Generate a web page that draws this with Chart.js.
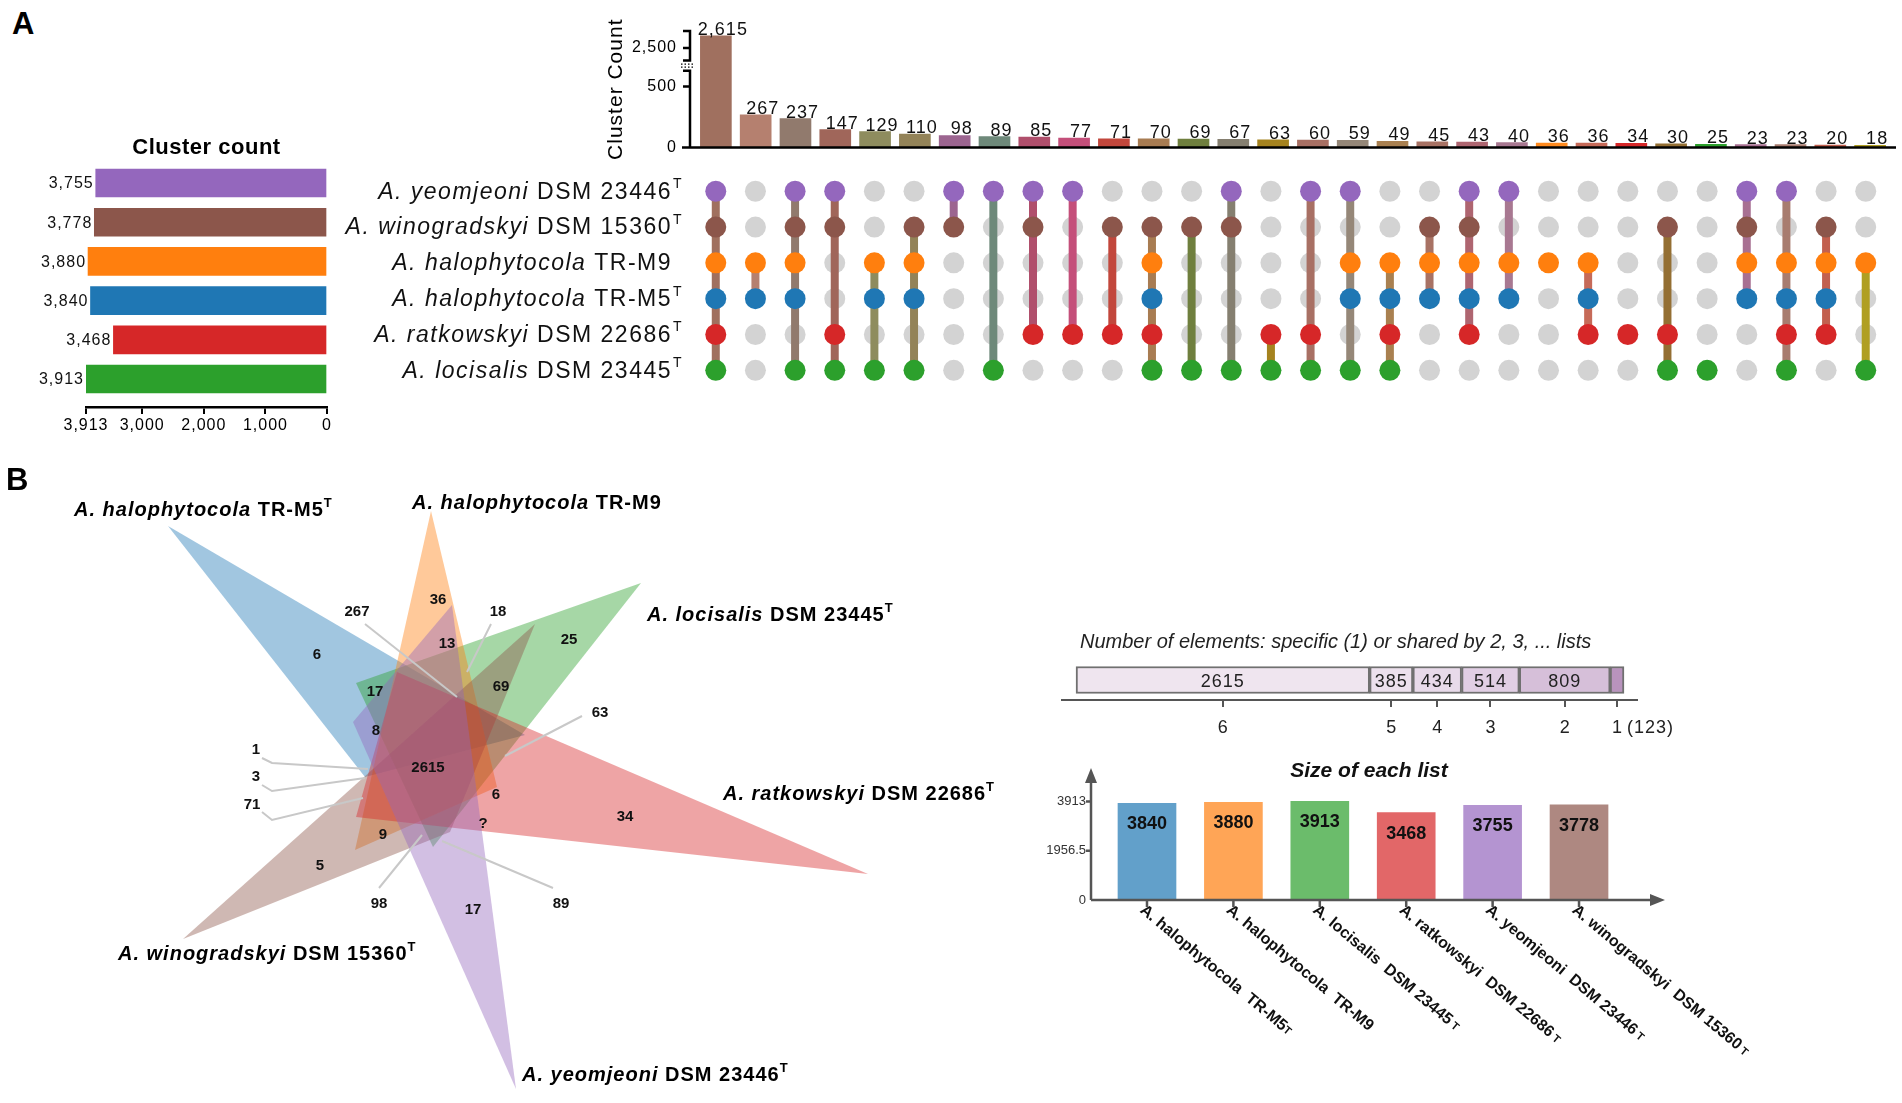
<!DOCTYPE html>
<html lang="en">
<head>
  <meta charset="UTF-8" />
  <title>Cluster comparison</title>
  <script src="https://cdn.jsdelivr.net/npm/chart.js"></script>
  <style>
    body {
      margin: 0;
      width: 1902px;
      height: 1103px;
      position: relative;
      overflow: hidden;
      background: #fff;
      font-family: "Liberation Sans", Arial, sans-serif;
    }
    .box { position: absolute; }
    .panel { position: absolute; font-weight: bold; font-size: 31px; color: #000; }
  </style>
</head>
<body>
  <div class="box" style="left:0;top:100px;width:340px;height:340px"><canvas id="graficoEsquerda"></canvas></div>
  <div class="box" style="left:600px;top:0;width:1302px;height:170px"><canvas id="graficoTopo"></canvas></div>
  <div class="box" style="left:330px;top:157px;width:1572px;height:243px"><canvas id="graficoMatriz"></canvas></div>
  <div class="box" style="left:0;top:460px;width:1000px;height:643px"><canvas id="graficoVenn"></canvas></div>
  <div class="box" style="left:1040px;top:610px;width:700px;height:140px"><canvas id="graficoElementos"></canvas></div>
  <div class="box" style="left:1040px;top:750px;width:800px;height:353px"><canvas id="graficoListas"></canvas></div>
  <div class="panel" style="left:12px;top:6px">A</div>
  <div class="panel" style="left:6px;top:462px">B</div>

  <script>
    const FONT = '"Liberation Sans", Arial, sans-serif';

    // sets (rows of panel A, top to bottom)
    const setSpecies = ["A. yeomjeoni", "A. winogradskyi", "A. halophytocola", "A. halophytocola", "A. ratkowskyi", "A. locisalis"];
    const setStrains = ["DSM 23446", "DSM 15360", "TR-M9", "TR-M5", "DSM 22686", "DSM 23445"];
    const setTypeMark = ["T", "T", "", "T", "T", "T"];
    const setSizes = [3755, 3778, 3880, 3840, 3468, 3913];
    const setColors = ["#9467bd", "#8c564b", "#ff7f0e", "#1f77b4", "#d62728", "#2ca02c"];
    const leftTicks = [3913, 3000, 2000, 1000, 0];

    // intersections (upset plot); membership flags follow the set rows above
    const interCounts = [2615, 267, 237, 147, 129, 110, 98, 89, 85, 77, 71, 70, 69, 67, 63, 60, 59, 49, 45, 43, 40, 36, 36, 34, 30, 25, 23, 23, 20, 18];
    const interMembers = ["111111", "001100", "111101", "110011", "001101", "011101", "110000", "100001", "110010", "100010",
                          "010010", "011111", "010001", "110001", "000011", "100011", "101101", "001111", "011100", "111110",
                          "101100", "001000", "001110", "000010", "010011", "000001", "111100", "101111", "011110", "001001"];
    const interColors = ["#a0705f", "#b5806f", "#917a6d", "#a0665a", "#8e8c5e", "#938358", "#9c6590", "#6e897a", "#b04f6c", "#c44f7a",
                         "#c2473c", "#a87c52", "#6f7f3e", "#857f70", "#a5831f", "#a87064", "#958778", "#a98050", "#a87264", "#ae6570",
                         "#a87891", "#ff8a1e", "#c66a58", "#d62728", "#946f33", "#2ca02c", "#a87092", "#a87c6f", "#c2604f", "#b09f22"];
    const topTicks = [0, 500, 2500];
    const axisBreak = [630, 2380];
    const axisTop = 2660;
    const breakFrac = [0.659, 0.746];

    // venn triangles (panel B coordinates)
    const triM5 = [[168, 66], [365, 317], [525, 275]];
    const triM9 = [[431, 51], [355, 390], [497, 327]];
    const triLoc = [[641, 123], [356, 223], [433, 387]];
    const triRat = [[868, 414], [397, 212], [356, 357]];
    const triYeo = [[516, 629], [353, 262], [452, 145]];
    const triWin = [[183, 479], [535, 164], [450, 372]];
    const vennCountText = ["6", "267", "36", "18", "13", "17", "69", "8", "1", "3", "71", "2615", "6", "?", "9", "5", "98", "17", "25", "63", "34", "89"];
    const vennCountX = [317, 357, 438, 498, 447, 375, 501, 376, 256, 256, 252, 428, 496, 483, 383, 320, 379, 473, 569, 600, 625, 561];
    const vennCountY = [195, 152, 140, 152, 184, 232, 227, 271, 290, 317, 345, 308, 335, 364, 375, 406, 444, 450, 180, 253, 357, 444];
    const leaderLines = [
      [[365, 164], [457, 237]],
      [[491, 164], [467, 212]],
      [[262, 298], [272, 303], [368, 309]],
      [[262, 325], [272, 331], [365, 318]],
      [[262, 352], [272, 360], [363, 338]],
      [[379, 428], [422, 375]],
      [[582, 256], [505, 296]],
      [[553, 428], [442, 381]]
    ];
    // labels for sets M5, M9, locisalis, ratkowskyi, winogradskyi, yeomjeoni
    const vennLabelSet = [3, 2, 5, 4, 1, 0];
    const vennLabelX = [74, 412, 647, 723, 118, 522];
    const vennLabelY = [50, 43, 155, 334, 494, 615];

    // number of elements shared by 6, 5, ... 1 lists
    const elemLabels = ["6", "5", "4", "3", "2", "1"];
    const elemCounts = [2615, 385, 434, 514, 809, 123];
    const elemColors = ["#efe5ef", "#ece0ed", "#e8daea", "#e1cee4", "#d6bfd9", "#b893bd"];

    // size of each list
    const listOrder = [3, 2, 5, 4, 0, 1];
    const listTicks = [0, 1956.5, 3913];
    const listNames = ["A. halophytocola  TR-M5", "A. halophytocola  TR-M9", "A. locisalis  DSM 23445", "A. ratkowskyi  DSM 22686", "A. yeomjeoni  DSM 23446", "A. winogradskyi  DSM 15360"];
    const listSuffix = ["T", "", " T", " T", " T", " T"];

    function rgba(hex, a) {
      const n = parseInt(hex.slice(1), 16);
      return `rgba(${n >> 16},${(n >> 8) & 255},${n & 255},${a})`;
    }

    // draws text pieces with different fonts one after another
    function drawPieces(ctx, pieces, x, y, align) {
      const widths = pieces.map(p => { ctx.font = p.font; return ctx.measureText(p.text).width; });
      let cx = align === "right" ? x - widths.reduce((a, b) => a + b, 0) : x;
      ctx.textAlign = "left";
      pieces.forEach((p, i) => {
        ctx.font = p.font;
        ctx.fillText(p.text, cx, y + (p.dy || 0));
        cx += widths[i];
      });
    }

    Chart.defaults.font.family = FONT;
    Chart.defaults.color = "#000";
    Chart.defaults.animation = false;
    Chart.defaults.maintainAspectRatio = false;
    Chart.defaults.plugins.legend.display = false;
    Chart.defaults.plugins.tooltip.enabled = false;

    // linear scale with a gap between axisBreak[0] and axisBreak[1]
    class BrokenScale extends Chart.LinearScale {
      getPixelForValue(v) {
        let f;
        if (v <= axisBreak[0]) f = v / axisBreak[0] * breakFrac[0];
        else if (v >= axisBreak[1]) f = breakFrac[1] + (v - axisBreak[1]) / (axisTop - axisBreak[1]) * (1 - breakFrac[1]);
        else f = breakFrac[0] + (v - axisBreak[0]) / (axisBreak[1] - axisBreak[0]) * (breakFrac[1] - breakFrac[0]);
        return this.bottom - f * (this.bottom - this.top);
      }
      getValueForPixel(p) {
        const f = (this.bottom - p) / (this.bottom - this.top);
        if (f <= breakFrac[0]) return f / breakFrac[0] * axisBreak[0];
        if (f >= breakFrac[1]) return axisBreak[1] + (f - breakFrac[1]) / (1 - breakFrac[1]) * (axisTop - axisBreak[1]);
        return axisBreak[0] + (f - breakFrac[0]) / (breakFrac[1] - breakFrac[0]) * (axisBreak[1] - axisBreak[0]);
      }
    }
    BrokenScale.id = "broken";
    Chart.register(BrokenScale);

    // ---------- A: cluster count (left) ----------
    new Chart(document.getElementById("graficoEsquerda"), {
      type: "bar",
      data: {
        datasets: [{
          data: setSizes.map((v, i) => ({ x: v, y: i })),
          backgroundColor: setColors,
          barThickness: 28
        }]
      },
      options: {
        indexAxis: "y",
        layout: { padding: { left: 86, right: 13, top: 60, bottom: 3 } },
        scales: {
          x: {
            type: "linear", reverse: true, min: 0, max: 3913,
            afterBuildTicks: s => { s.ticks = leftTicks.map(v => ({ value: v })); },
            afterFit: s => { s.height = 30; },
            ticks: { autoSkip: false, maxRotation: 0, padding: 2, font: { size: 16 }, color: "#000", callback: v => v.toLocaleString("en-US") },
            grid: { drawOnChartArea: false, drawTicks: true, tickLength: 7, color: "#000", lineWidth: 2 },
            border: { color: "#000", width: 2.5 }
          },
          y: { type: "linear", display: false, offset: false, min: -0.587, max: 5.714, reverse: true }
        }
      },
      plugins: [{
        id: "rotulosEsquerda",
        beforeDraw(chart) { chart.ctx.letterSpacing = "1px"; },
        afterDatasetsDraw(chart) {
          const { ctx, chartArea: a } = chart;
          ctx.save();
          ctx.font = "16px " + FONT;
          ctx.fillStyle = "#111";
          ctx.textAlign = "right";
          ctx.textBaseline = "middle";
          chart.getDatasetMeta(0).data.forEach((bar, i) => {
            ctx.fillText(setSizes[i].toLocaleString("en-US"), bar.x - 2, bar.y + 1);
          });
          ctx.font = "bold 22px " + FONT;
          ctx.textAlign = "center";
          ctx.fillStyle = "#000";
          ctx.letterSpacing = "0.5px";
          ctx.fillText("Cluster count", (a.left + a.right) / 2, a.top - 12);
          ctx.restore();
        }
      }]
    });

    // ---------- A: intersection sizes ----------
    new Chart(document.getElementById("graficoTopo"), {
      type: "bar",
      data: {
        datasets: [{
          data: interCounts.map((v, i) => ({ x: i, y: v })),
          backgroundColor: interColors,
          barThickness: 31
        }]
      },
      options: {
        layout: { padding: { left: 0, right: 6, top: 31, bottom: 13 } },
        scales: {
          x: { type: "linear", offset: false, min: -0.65, max: 29.65, display: false },
          y: {
            type: "broken", min: 0, max: axisTop,
            afterBuildTicks: s => { s.ticks = topTicks.map(v => ({ value: v })); },
            afterFit: s => { s.width = 90; },
            ticks: { padding: 13, font: { size: 16 }, color: "#000", callback: v => v.toLocaleString("en-US") },
            grid: { display: false, drawTicks: false },
            border: { display: false },
            title: { display: true, text: "Cluster Count", font: { size: 21 }, color: "#000", padding: { top: 4, bottom: 0 } }
          }
        }
      },
      plugins: [{
        id: "eixoQuebrado",
        beforeDraw(chart) { chart.ctx.letterSpacing = "1px"; },
        afterDraw(chart) {
          const { ctx, chartArea: a } = chart;
          const ys = chart.scales.y;
          const p = v => ys.getPixelForValue(v);
          const x0 = a.left;
          ctx.save();
          ctx.strokeStyle = "#000";
          ctx.lineWidth = 2.5;
          ctx.beginPath();
          ctx.moveTo(x0, p(0)); ctx.lineTo(x0, p(axisBreak[0])); ctx.lineTo(x0 - 7, p(axisBreak[0]));
          ctx.moveTo(x0 - 7, p(axisBreak[1])); ctx.lineTo(x0, p(axisBreak[1])); ctx.lineTo(x0, p(axisTop)); ctx.lineTo(x0 - 7, p(axisTop));
          topTicks.filter(v => v > 0).forEach(v => { ctx.moveTo(x0 - 7, p(v)); ctx.lineTo(x0, p(v)); });
          ctx.moveTo(x0 - 8, p(0)); ctx.lineTo(a.right, p(0));
          ctx.stroke();
          const mid = (p(axisBreak[0]) + p(axisBreak[1])) / 2;
          ctx.lineWidth = 1.2;
          ctx.setLineDash([1.5, 2]);
          ctx.beginPath();
          ctx.moveTo(x0 - 9, mid - 1.5); ctx.lineTo(x0 + 3, mid - 1.5);
          ctx.moveTo(x0 - 9, mid + 1.5); ctx.lineTo(x0 + 3, mid + 1.5);
          ctx.stroke();
          ctx.setLineDash([]);
          ctx.font = "18px " + FONT;
          ctx.fillStyle = "#111";
          ctx.textAlign = "center";
          ctx.textBaseline = "alphabetic";
          chart.getDatasetMeta(0).data.forEach((bar, i) => {
            ctx.fillText(interCounts[i].toLocaleString("en-US"), bar.x + 7, bar.y - 1);
          });
          ctx.restore();
        }
      }]
    });

    // ---------- A: membership matrix ----------
    const greyPts = [], dotPts = [], dotCols = [], linkSets = [];
    interMembers.forEach((m, i) => {
      const rows = [];
      for (let r = 0; r < m.length; r++) {
        if (m[r] === "1") { dotPts.push({ x: i, y: r }); dotCols.push(setColors[r]); rows.push(r); }
        else greyPts.push({ x: i, y: r });
      }
      if (rows.length > 1) {
        linkSets.push({
          data: [{ x: i, y: rows[0] }, { x: i, y: rows[rows.length - 1] }],
          borderColor: interColors[i], borderWidth: 8, pointRadius: 0, showLine: true, order: 2
        });
      }
    });

    new Chart(document.getElementById("graficoMatriz"), {
      type: "line",
      data: {
        datasets: [
          { data: greyPts, showLine: false, pointRadius: 10.5, pointHoverRadius: 10.5, pointBorderWidth: 0, pointBackgroundColor: "#d3d3d3", order: 3 },
          ...linkSets,
          { data: dotPts, showLine: false, pointRadius: 10.5, pointHoverRadius: 10.5, pointBorderWidth: 0, pointBackgroundColor: dotCols, order: 1 }
        ]
      },
      options: {
        layout: { padding: { left: 360, right: 6, top: 0, bottom: 0 } },
        scales: {
          x: { type: "linear", min: -0.65, max: 29.65, display: false },
          y: { type: "linear", min: -0.663, max: 5.536, reverse: true, display: false }
        }
      },
      plugins: [{
        id: "nomesLinhas",
        afterDraw(chart) {
          const { ctx, chartArea: a } = chart;
          const ys = chart.scales.y;
          ctx.save();
          ctx.fillStyle = "#111";
          ctx.textBaseline = "middle";
          ctx.letterSpacing = "1.5px";
          setSpecies.forEach((sp, r) => {
            const y = ys.getPixelForValue(r) + 1;
            drawPieces(ctx, [
              { text: sp, font: "italic 23px " + FONT },
              { text: " " + setStrains[r], font: "23px " + FONT }
            ], a.left - 18, y, "right");
            if (setTypeMark[r]) {
              ctx.font = "14px " + FONT;
              ctx.fillText(setTypeMark[r], a.left - 17, y - 8);
            }
          });
          ctx.restore();
        }
      }]
    });

    // ---------- B: venn triangles ----------
    const vennTris = [triM5, triLoc, triM9, triWin, triRat, triYeo];
    const vennTriSet = [3, 5, 2, 1, 4, 0];
    const triSets = vennTris.map((t, k) => ({
      data: [...t, t[0]].map(v => ({ x: v[0], y: v[1] })),
      fill: "shape",
      backgroundColor: rgba(setColors[vennTriSet[k]], 0.42),
      borderWidth: 0,
      pointRadius: 0,
      tension: 0,
      order: 10 - k
    }));
    const leaderSets = leaderLines.map(l => ({
      data: l.map(v => ({ x: v[0], y: v[1] })),
      fill: false,
      borderColor: "#c8c8c8",
      borderWidth: 2,
      pointRadius: 0,
      order: 1
    }));

    new Chart(document.getElementById("graficoVenn"), {
      type: "line",
      data: { datasets: [...triSets, ...leaderSets] },
      options: {
        layout: { padding: 0 },
        scales: {
          x: { type: "linear", min: 0, max: 1000, display: false },
          y: { type: "linear", min: 0, max: 643, reverse: true, display: false }
        }
      },
      plugins: [{
        id: "rotulosVenn",
        afterDraw(chart) {
          const { ctx } = chart;
          const xs = chart.scales.x, ys = chart.scales.y;
          ctx.save();
          ctx.fillStyle = "#111";
          ctx.textAlign = "center";
          ctx.textBaseline = "middle";
          ctx.font = "bold 15px " + FONT;
          vennCountText.forEach((t, i) => {
            ctx.fillText(t, xs.getPixelForValue(vennCountX[i]), ys.getPixelForValue(vennCountY[i]));
          });
          ctx.fillStyle = "#000";
          ctx.letterSpacing = "1px";
          vennLabelSet.forEach((s, i) => {
            const pieces = [
              { text: setSpecies[s] + " ", font: "italic bold 20px " + FONT },
              { text: setStrains[s], font: "bold 20px " + FONT }
            ];
            if (setTypeMark[s]) pieces.push({ text: setTypeMark[s], font: "bold 13px " + FONT, dy: -7 });
            drawPieces(ctx, pieces, xs.getPixelForValue(vennLabelX[i]), ys.getPixelForValue(vennLabelY[i]), "left");
          });
          ctx.restore();
        }
      }]
    });

    // ---------- B: number of elements ----------
    new Chart(document.getElementById("graficoElementos"), {
      type: "bar",
      data: {
        labels: ["n"],
        datasets: elemCounts.map((v, i) => ({
          data: [v],
          backgroundColor: elemColors[i],
          borderColor: "#707070",
          borderWidth: 2,
          borderSkipped: false,
          barThickness: 27
        }))
      },
      options: {
        indexAxis: "y",
        layout: { padding: { left: 22, right: 103, top: 50, bottom: 10 } },
        scales: {
          x: {
            type: "linear", stacked: true, min: -125, max: 4996,
            afterBuildTicks: s => {
              let acc = 0;
              s.ticks = elemCounts.map(v => { const c = acc + v / 2; acc += v; return { value: c }; });
            },
            afterFit: s => { s.height = 40; },
            ticks: { autoSkip: false, maxRotation: 0, padding: 10, font: { size: 18 }, color: "#222", callback: (v, i) => elemLabels[i] },
            grid: { drawOnChartArea: false, drawTicks: true, tickLength: 7, color: "#555", lineWidth: 2 },
            border: { color: "#555", width: 2 }
          },
          y: { stacked: true, display: false }
        }
      },
      plugins: [{
        id: "rotulosElementos",
        afterDraw(chart) {
          const { ctx, chartArea: a } = chart;
          const xs = chart.scales.x;
          ctx.save();
          ctx.fillStyle = "#222";
          ctx.textBaseline = "middle";
          ctx.textAlign = "center";
          ctx.letterSpacing = "1px";
          ctx.font = "18px " + FONT;
          chart.data.datasets.forEach((ds, i) => {
            const bar = chart.getDatasetMeta(i).data[0];
            if (Math.abs(bar.x - bar.base) > 25) ctx.fillText(String(elemCounts[i]), (bar.x + bar.base) / 2, bar.y + 2);
          });
          const last = xs.getPixelForValue(xs.ticks[xs.ticks.length - 1].value);
          ctx.textAlign = "left";
          ctx.fillText("(" + elemCounts[elemCounts.length - 1] + ")", last + 10, a.bottom + 28);
          ctx.letterSpacing = "0px";
          ctx.font = "italic 20px " + FONT;
          ctx.fillText("Number of elements: specific (1) or shared by 2, 3, ... lists", a.left + 18, a.top - 18);
          ctx.restore();
        }
      }]
    });

    // ---------- B: size of each list ----------
    new Chart(document.getElementById("graficoListas"), {
      type: "bar",
      data: {
        datasets: [{
          data: listOrder.map((s, i) => ({ x: i, y: setSizes[s] })),
          backgroundColor: listOrder.map(s => rgba(setColors[s], 0.7)),
          barThickness: 58
        }]
      },
      options: {
        layout: { padding: { left: 0, right: 175, top: 18, bottom: 0 } },
        scales: {
          x: {
            type: "linear", offset: false, min: -0.648, max: 5.995,
            afterFit: s => { s.height = 203; },
            ticks: { display: false },
            grid: { display: false },
            border: { display: false }
          },
          y: {
            min: 0, max: 5240,
            afterBuildTicks: s => { s.ticks = listTicks.map(v => ({ value: v })); },
            afterFit: s => { s.width = 51; },
            ticks: { padding: 5, font: { size: 13 }, color: "#333", callback: v => String(v) },
            grid: { display: false, drawTicks: false },
            border: { display: false }
          }
        }
      },
      plugins: [{
        id: "eixosListas",
        afterDraw(chart) {
          const { ctx, chartArea: a } = chart;
          const xs = chart.scales.x, ys = chart.scales.y;
          ctx.save();
          ctx.strokeStyle = "#555";
          ctx.fillStyle = "#555";
          ctx.lineWidth = 2.5;
          ctx.beginPath();
          ctx.moveTo(a.left, a.bottom); ctx.lineTo(a.left, a.top + 10);
          ctx.moveTo(a.left, a.bottom); ctx.lineTo(a.right - 10, a.bottom);
          listTicks.filter(v => v > 0).forEach(v => { ctx.moveTo(a.left - 5, ys.getPixelForValue(v)); ctx.lineTo(a.left, ys.getPixelForValue(v)); });
          listOrder.forEach((s, i) => { ctx.moveTo(xs.getPixelForValue(i), a.bottom); ctx.lineTo(xs.getPixelForValue(i), a.bottom + 7); });
          ctx.stroke();
          ctx.beginPath();
          ctx.moveTo(a.left, a.top); ctx.lineTo(a.left - 6, a.top + 15); ctx.lineTo(a.left + 6, a.top + 15); ctx.closePath();
          ctx.moveTo(a.right, a.bottom); ctx.lineTo(a.right - 15, a.bottom - 6); ctx.lineTo(a.right - 15, a.bottom + 6); ctx.closePath();
          ctx.fill();

          ctx.fillStyle = "#111";
          ctx.textAlign = "center";
          ctx.textBaseline = "middle";
          ctx.font = "bold 18px " + FONT;
          chart.getDatasetMeta(0).data.forEach((bar, i) => {
            ctx.fillText(String(setSizes[listOrder[i]]), bar.x, bar.y + 21);
          });
          ctx.font = "italic bold 21px " + FONT;
          ctx.fillText("Size of each list", xs.getPixelForValue(2.5) + 6, a.top + 3);

          listOrder.forEach((s, i) => {
            ctx.save();
            ctx.translate(xs.getPixelForValue(i) - 5, a.bottom + 8);
            ctx.rotate(40 * Math.PI / 180);
            ctx.textBaseline = "middle";
            const pieces = [{ text: listNames[i], font: "bold 16px " + FONT }];
            if (listSuffix[i]) pieces.push({ text: listSuffix[i], font: "bold 11px " + FONT, dy: 1 });
            drawPieces(ctx, pieces, 0, 0, "left");
            ctx.restore();
          });
          ctx.restore();
        }
      }]
    });
  </script>
</body>
</html>
